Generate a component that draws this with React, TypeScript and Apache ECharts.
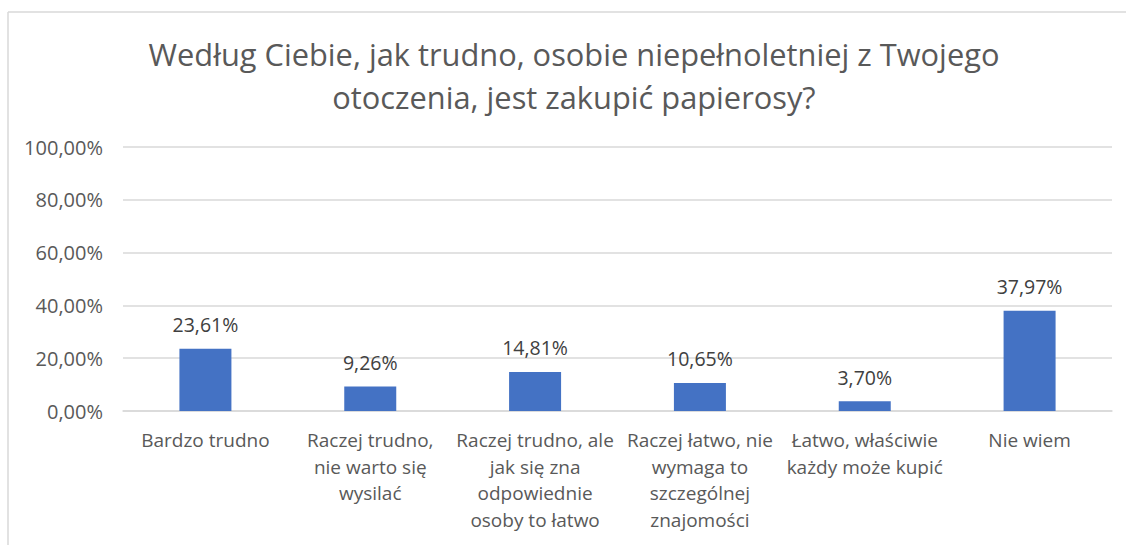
import React, { useEffect, useRef } from "react";
import * as echarts from "echarts";

const titleText = "Według Ciebie, jak trudno, osobie niepełnoletniej z Twojego\notoczenia, jest zakupić papierosy?";
const categories = [
  "Bardzo trudno",
  "Raczej trudno,\nnie warto się\nwysilać",
  "Raczej trudno, ale\njak się zna\nodpowiednie\nosoby to łatwo",
  "Raczej łatwo, nie\nwymaga to\nszczególnej\nznajomości",
  "Łatwo, właściwie\nkażdy może kupić",
  "Nie wiem",
];
const values = [23.61, 9.26, 14.81, 10.65, 3.7, 37.97];
const yMin = 0;
const yMax = 100;
const yInterval = 20;

const fmt = (v: number) => v.toFixed(2).replace(".", ",") + "%";

export default function App() {
  const ref = useRef<HTMLDivElement>(null);
  useEffect(() => {
    if (!ref.current) return;
    const chart = echarts.init(ref.current, null, { renderer: "svg" });
    const font = "'Open Sans', sans-serif";
    chart.setOption({
      animation: false,
      backgroundColor: "#ffffff",
      textStyle: { fontFamily: font },
      title: {
        text: titleText,
        left: 569,
        textAlign: "center",
        top: 27,
        textStyle: {
          fontFamily: font,
          fontSize: 30.8,
          fontWeight: "normal",
          color: "#595959",
          lineHeight: 43,
        },
      },
      graphic: [
        {
          type: "line",
          shape: { x1: 8, y1: 12, x2: 1126, y2: 12 },
          style: { stroke: "#d9d9d9", lineWidth: 1.5 },
        },
        {
          type: "line",
          shape: { x1: 8, y1: 12, x2: 8, y2: 545 },
          style: { stroke: "#d9d9d9", lineWidth: 1.5 },
        },
      ],
      grid: { left: 123, right: 14, top: 147, bottom: 134 },
      xAxis: {
        type: "category",
        data: categories,
        axisLine: { show: true, lineStyle: { color: "#d9d9d9", width: 1.5 } },
        axisTick: { show: false },
        axisLabel: {
          interval: 0,
          margin: 16,
          color: "#595959",
          fontSize: 19,
          lineHeight: 26.5,
          fontFamily: font,
        },
      },
      yAxis: {
        type: "value",
        min: yMin,
        max: yMax,
        interval: yInterval,
        axisLine: { show: false },
        axisTick: { show: false },
        splitLine: { lineStyle: { color: "#d9d9d9", width: 1.5 } },
        axisLabel: {
          margin: 20,
          color: "#595959",
          fontSize: 20,
          fontFamily: font,
          formatter: (v: number) => fmt(v),
        },
      },
      series: [
        {
          type: "bar",
          data: values,
          barWidth: 52,
          itemStyle: { color: "#4472C4" },
          label: {
            show: true,
            position: "top",
            distance: 14,
            color: "#404040",
            fontSize: 19.5,
            fontFamily: font,
            formatter: (p: any) => fmt(p.value),
          },
        },
      ],
    });
    return () => chart.dispose();
  }, []);
  return (
    <div
      ref={ref}
      style={{ position: "absolute", left: 0, top: 0, width: 1126, height: 545 }}
    />
  );
}
